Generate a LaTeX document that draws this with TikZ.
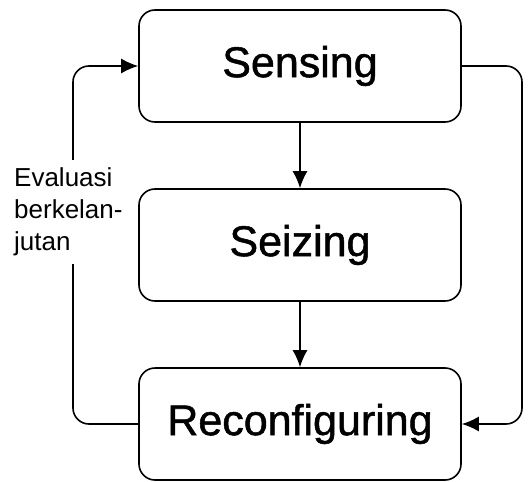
\documentclass[tikz,border=0pt]{standalone}
\usepackage{fontspec}
\setmainfont{Liberation Sans}
\newfontfamily\stagefont[FakeBold=1.2]{Liberation Sans}
\usetikzlibrary{arrows.meta}

\begin{document}
\begin{tikzpicture}[x=1pt, y=1pt,
    stage/.style={draw, line width=1.6pt, rounded corners=16pt, minimum width=322pt, minimum height=112pt, font=\stagefont\fontsize{43}{50}\selectfont},
    flow/.style={-{Latex[length=17pt,width=15pt]}, line width=1.6pt},
    loop/.style={flow, rounded corners=16pt}]
    \useasboundingbox (0,0) rectangle (529,-481);

    \coordinate (leftrail) at (73,0);
    \coordinate (rightrail) at (522,0);

    \node[stage] (sensing) at (300,-66) {Sensing};
    \node[stage] (seizing) at (300,-245) {Seizing};
    \node[stage] (reconf) at (300,-424) {Reconfiguring};

    \draw[flow] (sensing) -- (seizing);
    \draw[flow] (seizing) -- (reconf);

    \draw[loop] (reconf.west) -- (reconf.west -| leftrail) -- (sensing.west -| leftrail) -- (sensing.west);
    \draw[loop] (sensing.east) -- (sensing.east -| rightrail) -- (reconf.east -| rightrail) -- (reconf.east);

    \node[fill=white, inner sep=8pt, align=left, anchor=west, font=\fontsize{26}{32}\selectfont] (eval) at (6,-212) {Evaluasi\\berkelan-\\jutan};
\end{tikzpicture}
\end{document}
